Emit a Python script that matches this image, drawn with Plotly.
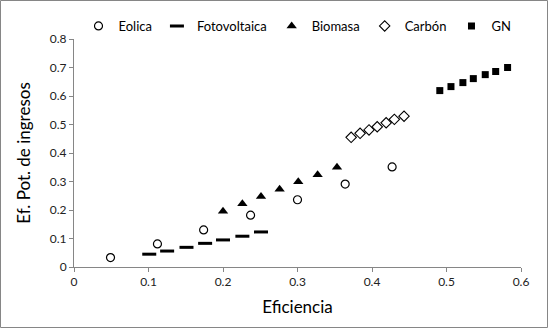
import plotly.graph_objects as go

eolica_x = [0.049, 0.112, 0.174, 0.237, 0.300, 0.364, 0.427]
eolica_y = [0.033, 0.081, 0.130, 0.182, 0.236, 0.291, 0.351]

foto_x = [0.101, 0.125, 0.151, 0.176, 0.200, 0.226, 0.251]
foto_y = [0.045, 0.056, 0.069, 0.083, 0.095, 0.108, 0.123]

bio_x = [0.200, 0.226, 0.251, 0.276, 0.301, 0.327, 0.353]
bio_y = [0.196, 0.222, 0.247, 0.273, 0.299, 0.324, 0.350]

carbon_x = [0.372, 0.384, 0.396, 0.407, 0.419, 0.430, 0.443]
carbon_y = [0.455, 0.469, 0.481, 0.492, 0.506, 0.518, 0.529]

gn_x = [0.491, 0.506, 0.522, 0.536, 0.552, 0.566, 0.582]
gn_y = [0.619, 0.633, 0.647, 0.661, 0.675, 0.686, 0.700]

x_ticks = [0, 0.1, 0.2, 0.3, 0.4, 0.5, 0.6]
y_ticks = [0, 0.1, 0.2, 0.3, 0.4, 0.5, 0.6, 0.7, 0.8]

FONT = "Lato"

fig = go.Figure()
fig.add_trace(go.Scatter(x=eolica_x, y=eolica_y, mode="markers", name="Eolica",
                         marker=dict(symbol="circle-open", size=8, color="black", line=dict(width=1.2, color="black"))))
fig.add_trace(go.Scatter(x=foto_x, y=foto_y, mode="markers", name="Fotovoltaica",
                         marker=dict(symbol="line-ew", size=10, color="black", line=dict(width=3, color="black"))))
fig.add_trace(go.Scatter(x=bio_x, y=bio_y, mode="markers", name="Biomasa",
                         marker=dict(symbol="triangle-up", size=9, color="black", line=dict(width=0))))
fig.add_trace(go.Scatter(x=carbon_x, y=carbon_y, mode="markers", name="Carbón",
                         marker=dict(symbol="diamond-open", size=8, color="black", line=dict(width=1.1, color="black"))))
fig.add_trace(go.Scatter(x=gn_x, y=gn_y, mode="markers", name="GN",
                         marker=dict(symbol="square", size=7, color="black", line=dict(width=0))))

L, R, T, B = 74, 27, 39, 61
W, H = 548, 328
pw, ph = W - L - R, H - T - B

fig.update_layout(
    width=W, height=H,
    margin=dict(l=L, r=R, t=T, b=B, pad=0, autoexpand=False),
    paper_bgcolor="white", plot_bgcolor="white",
    font=dict(family=FONT, color="black"),
    showlegend=True,
    legend=dict(orientation="h", yref="container",
                x=0.5, xanchor="center", y=1 - 26 / H, yanchor="middle",
                font=dict(size=13, family=FONT, color="black"), itemwidth=30,
                bgcolor="rgba(0,0,0,0)", tracegroupgap=0),
    xaxis=dict(range=[0, 0.6], tickvals=x_ticks, ticktext=[f"{v:g}" for v in x_ticks],
               showgrid=False, zeroline=False, showline=True, linecolor="#868686", linewidth=1,
               ticks="outside", ticklen=4, tickcolor="#868686",
               tickfont=dict(size=12, color="#222"),
               title=dict(text="Eficiencia", font=dict(size=17, family=FONT), standoff=12)),
    yaxis=dict(range=[0, 0.8], tickvals=y_ticks, ticktext=[f"{v:g}" for v in y_ticks],
               showgrid=False, zeroline=False, showline=True, linecolor="#868686", linewidth=1,
               ticks="outside", ticklen=4, tickcolor="#868686",
               tickfont=dict(size=12, color="#222"),
               title=dict(text="Ef. Pot. de ingresos", font=dict(size=17, family=FONT), standoff=14)),
    shapes=[dict(type="rect", xref="paper", yref="paper",
                 x0=(0.5 - L) / pw, x1=(W - 0.5 - L) / pw,
                 y0=-(B - 0.5) / ph,
                 y1=(T - 0.5) / ph + 1,
                 line=dict(color="#868686", width=1), fillcolor="rgba(0,0,0,0)", layer="below")],
)

fig.write_html("out.html")
